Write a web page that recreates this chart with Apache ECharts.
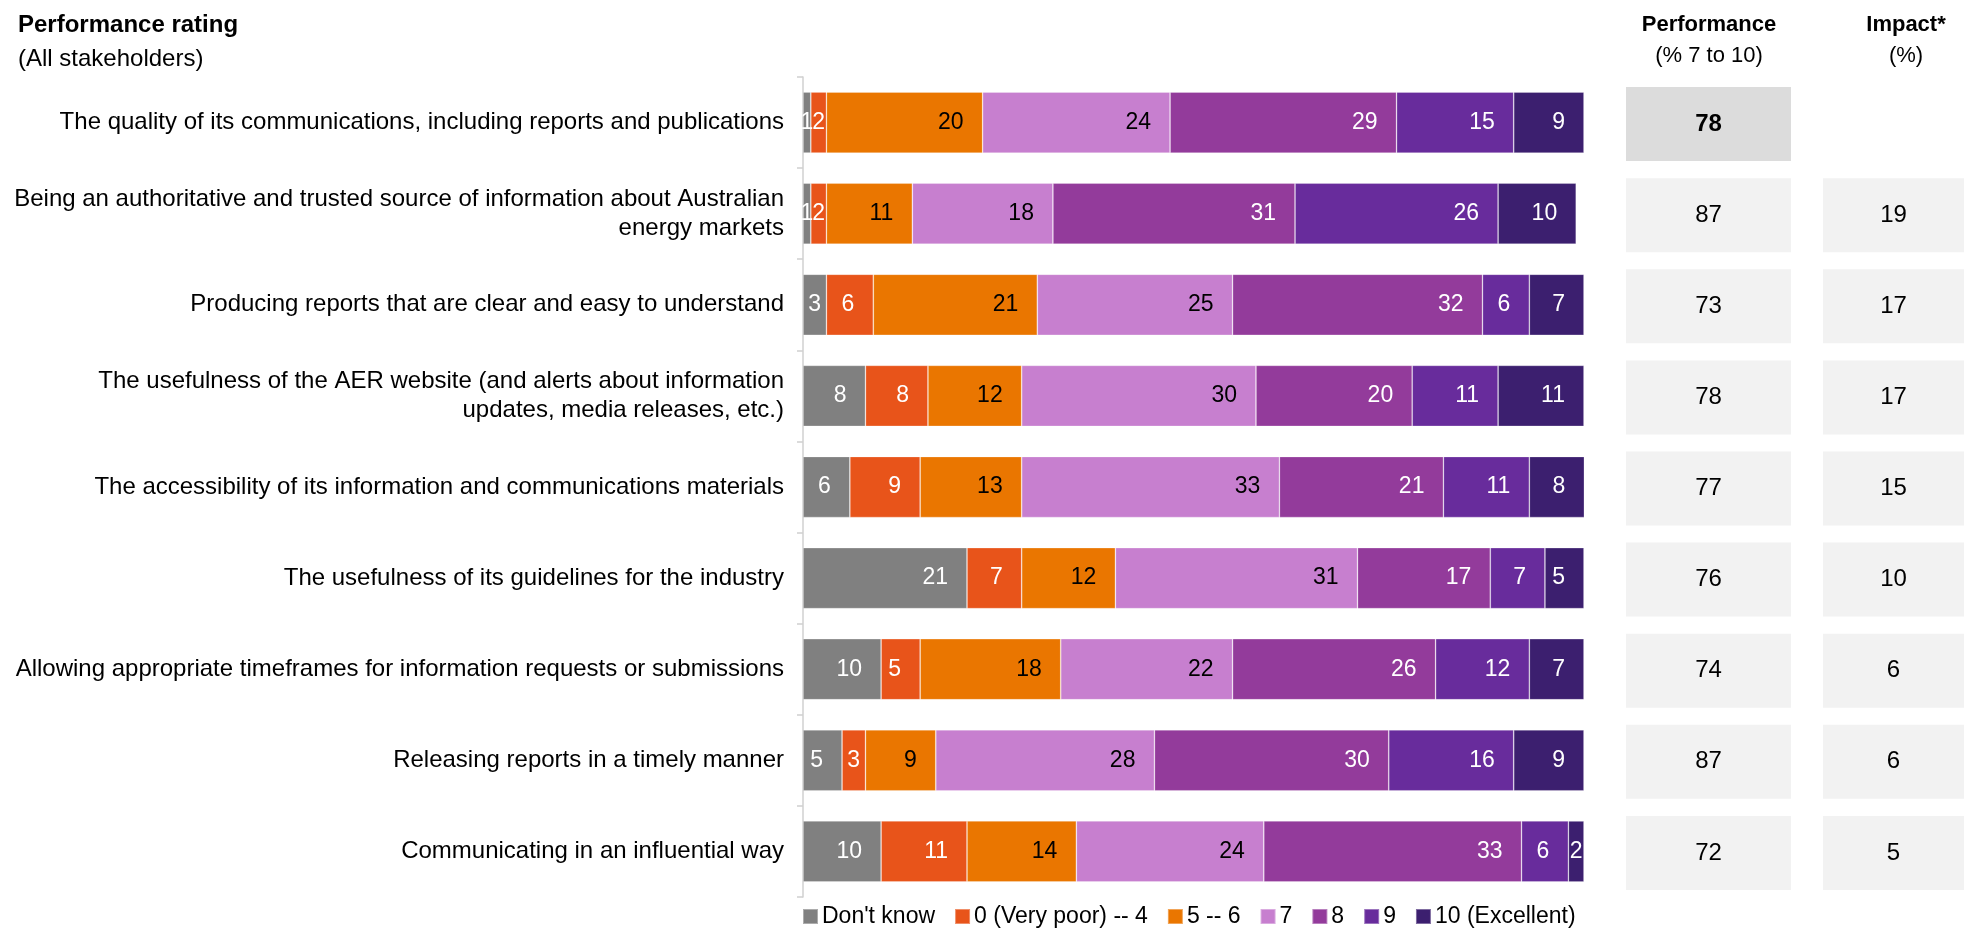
<!DOCTYPE html>
<html>
<head>
<meta charset="utf-8">
<script src="https://cdn.jsdelivr.net/npm/echarts@6/dist/echarts.min.js"></script>
<style>
  html, body { margin: 0; padding: 0; background: #ffffff; }
  #chart { width: 1964px; height: 928px; }
</style>
</head>
<body>
<div id="chart"></div>
<script>
// Statements rated by all stakeholders (top to bottom)
const categories = [
  'The quality of its communications, including reports and publications',
  'Being an authoritative and trusted source of information about Australian\nenergy markets',
  'Producing reports that are clear and easy to understand',
  'The usefulness of the AER website (and alerts about information\nupdates, media releases, etc.)',
  'The accessibility of its information and communications materials',
  'The usefulness of its guidelines for the industry',
  'Allowing appropriate timeframes for information requests or submissions',
  'Releasing reports in a timely manner',
  'Communicating in an influential way'
];

// Rating bands (legend order)
const bandNames = ["Don't know", '0 (Very poor) -- 4', '5 -- 6', '7', '8', '9', '10 (Excellent)'];

// Share of respondents per band, %
const dontKnow  = [1, 1, 3, 8, 6, 21, 10, 5, 10];
const poorTo4   = [2, 2, 6, 8, 9, 7, 5, 3, 11];
const fiveToSix = [20, 11, 21, 12, 13, 12, 18, 9, 14];
const seven     = [24, 18, 25, 30, 33, 31, 22, 28, 24];
const eight     = [29, 31, 32, 20, 21, 17, 26, 30, 33];
const nine      = [15, 26, 6, 11, 11, 7, 12, 16, 6];
const ten       = [9, 10, 7, 11, 8, 5, 7, 9, 2];

// Side columns: performance (% rating 7 to 10) and impact (%)
const performance = [78, 87, 73, 78, 77, 76, 74, 87, 72];
const impact      = [null, 19, 17, 17, 15, 10, 6, 6, 5];
const highlightedRow = 0;

const bandValues = [dontKnow, poorTo4, fiveToSix, seven, eight, nine, ten];
const bandColors = ['#808080', '#E8541A', '#EA7600', '#C77FCF', '#933B9B', '#682C9C', '#3C1F6F'];
const bandLabelColors = ['#ffffff', '#ffffff', '#000000', '#000000', '#ffffff', '#ffffff', '#ffffff'];

const FONT = '"Liberation Sans", Arial, Helvetica, sans-serif';

const chart = echarts.init(document.getElementById('chart'), null, { renderer: 'canvas' });

const barSeries = bandValues.map((vals, i) => ({
  name: bandNames[i],
  type: 'bar',
  stack: 'rating',
  xAxisIndex: 0,
  yAxisIndex: 0,
  barWidth: 61,
  itemStyle: { color: bandColors[i], borderColor: 'rgba(255,255,255,0.35)', borderWidth: 0.75 },
  label: {
    show: true,
    position: 'insideRight',
    distance: 19,
    color: bandLabelColors[i],
    fontSize: 23,
    fontFamily: FONT
  },
  // narrow segments get their value centred
  data: vals.map(v => (v <= 3 ? { value: v, label: { position: 'inside' } } : v))
}));

function boxSeries(values, gridIdx, boldRow) {
  const rows = [];
  values.forEach((v, idx) => { if (v != null) rows.push([idx, v]); });
  return {
    type: 'custom',
    xAxisIndex: gridIdx,
    yAxisIndex: gridIdx,
    encode: { y: 0, x: 1 },
    data: rows,
    silent: true,
    renderItem: function (params, api) {
      const cs = params.coordSys;
      const row = api.value(0);
      const cy = api.coord([0, row])[1] + 1.5;
      const h = 74;
      const bold = row === boldRow;
      return {
        type: 'group',
        children: [
          {
            type: 'rect',
            shape: { x: cs.x, y: cy - h / 2, width: cs.width, height: h },
            style: { fill: bold ? '#DCDCDC' : '#F2F2F2' }
          },
          {
            type: 'text',
            x: cs.x + cs.width / 2,
            y: cy,
            style: {
              text: String(api.value(1)),
              align: 'center',
              verticalAlign: 'middle',
              fontSize: 24,
              fontWeight: bold ? 'bold' : 'normal',
              fontFamily: FONT,
              fill: '#000000'
            }
          }
        ]
      };
    }
  };
}

const hiddenCategoryAxis = (gridIndex) => ({
  type: 'category',
  gridIndex: gridIndex,
  data: categories,
  inverse: true,
  show: false
});
const hiddenValueAxis = (gridIndex) => ({
  type: 'value',
  gridIndex: gridIndex,
  min: 0,
  max: 100,
  show: false
});

const option = {
  backgroundColor: '#ffffff',
  animation: false,
  textStyle: { fontFamily: FONT },
  title: [
    { text: 'Performance rating', left: 13, top: 8,
      textStyle: { fontSize: 24, fontWeight: 'bold', color: '#000', fontFamily: FONT } },
    { text: '(All stakeholders)', left: 13, top: 42,
      textStyle: { fontSize: 24, fontWeight: 'normal', color: '#000', fontFamily: FONT } }
  ],
  graphic: [
    { type: 'text', x: 1709, y: 25, style: { text: 'Performance', align: 'center', verticalAlign: 'middle',
      fontSize: 22, fontWeight: 'bold', fontFamily: FONT, fill: '#000' } },
    { type: 'text', x: 1709, y: 56, style: { text: '(% 7 to 10)', align: 'center', verticalAlign: 'middle',
      fontSize: 22, fontFamily: FONT, fill: '#000' } },
    { type: 'text', x: 1906, y: 25, style: { text: 'Impact*', align: 'center', verticalAlign: 'middle',
      fontSize: 22, fontWeight: 'bold', fontFamily: FONT, fill: '#000' } },
    { type: 'text', x: 1906, y: 56, style: { text: '(%)', align: 'center', verticalAlign: 'middle',
      fontSize: 22, fontFamily: FONT, fill: '#000' } }
  ],
  legend: {
    data: bandNames,
    left: 797,
    top: 900,
    itemWidth: 15,
    itemHeight: 15,
    itemGap: 19,
    icon: 'rect',
    selectedMode: false,
    textStyle: { fontSize: 23, color: '#000', fontFamily: FONT, padding: [0, 0, 0, -1] }
  },
  grid: [
    { left: 803, top: 77, width: 781, height: 820, containLabel: false },
    { left: 1626, top: 77, width: 165, height: 820 },
    { left: 1823, top: 77, width: 165, height: 820 }
  ],
  xAxis: [
    { type: 'value', gridIndex: 0, min: 0, max: 100, show: false },
    hiddenValueAxis(1),
    hiddenValueAxis(2)
  ],
  yAxis: [
    {
      type: 'category',
      gridIndex: 0,
      data: categories,
      inverse: true,
      axisLine: { show: true, lineStyle: { color: '#D0D0D0', width: 1.5 } },
      axisTick: { show: true, length: 6, lineStyle: { color: '#D0D0D0', width: 1.5 } },
      axisLabel: {
        margin: 19,
        fontSize: 24,
        lineHeight: 29,
        color: '#000',
        fontFamily: FONT,
        align: 'right'
      },
      splitLine: { show: false }
    },
    hiddenCategoryAxis(1),
    hiddenCategoryAxis(2)
  ],
  series: barSeries.concat([
    boxSeries(performance, 1, highlightedRow),
    boxSeries(impact, 2, -1)
  ])
};

chart.setOption(option);
</script>
</body>
</html>
